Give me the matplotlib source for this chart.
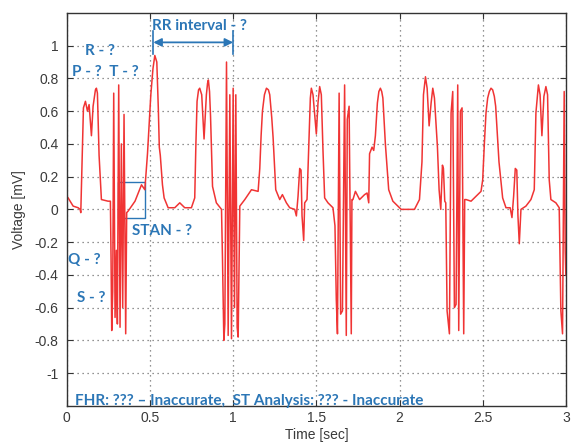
import numpy as np
import matplotlib
matplotlib.use("Agg")
import matplotlib.pyplot as plt
from matplotlib.patches import Rectangle

# breakpoints of the recorded trace, one block per beat cycle
beat1_t = [0.000, 0.008, 0.038, 0.068, 0.080, 0.084, 0.092, 0.100, 0.112, 0.124,
           0.134, 0.148, 0.158, 0.172, 0.178, 0.184, 0.194, 0.208, 0.248, 0.262]
beat1_v = [0.08, 0.07, 0.02, 0.01, 0.00, -0.02, 0.29, 0.62, 0.66, 0.60,
           0.64, 0.45, 0.63, 0.73, 0.74, 0.71, 0.33, 0.06, 0.05, 0.05]

qrs1_t = [0.266, 0.270, 0.276, 0.282, 0.290, 0.298, 0.304, 0.312, 0.320, 0.328,
          0.336, 0.344, 0.354, 0.360]
qrs1_v = [-0.30, -0.74, -0.50, 0.71, -0.66, -0.25, -0.70, 0.76, -0.72, 0.40,
          -0.60, 0.58, -0.76, -0.02]

beat2_t = [0.369, 0.410, 0.449, 0.469, 0.485, 0.497, 0.505, 0.518, 0.529, 0.541,
           0.550, 0.556, 0.562, 0.575, 0.585, 0.609, 0.649, 0.679, 0.709, 0.749,
           0.769, 0.776, 0.783, 0.792, 0.799, 0.811, 0.825, 0.839, 0.846, 0.851,
           0.858, 0.864, 0.876, 0.899, 0.930]
beat2_v = [-0.01, 0.05, 0.15, 0.12, 0.34, 0.56, 0.70, 0.86, 0.94, 0.90,
           0.62, 0.38, 0.33, 0.15, 0.07, 0.01, 0.01, 0.04, 0.01, 0.01,
           0.07, 0.40, 0.66, 0.73, 0.74, 0.70, 0.43, 0.70, 0.77, 0.79,
           0.72, 0.57, 0.14, 0.04, 0.00]

qrs2_t = [0.936, 0.944, 0.950, 0.960, 0.970, 0.980, 0.990, 1.000, 1.008, 1.016,
          1.024, 1.030, 1.040]
qrs2_v = [-0.31, -0.80, -0.70, 0.90, -0.77, 0.70, -0.79, 0.74, -0.60, 0.70,
          -0.72, -0.78, 0.02]

beat3_t = [1.070, 1.110, 1.150, 1.160, 1.168, 1.176, 1.188, 1.200, 1.212, 1.220,
           1.232, 1.240, 1.256, 1.280, 1.296, 1.320, 1.340, 1.370, 1.380, 1.390,
           1.400, 1.408, 1.414, 1.424, 1.430, 1.444, 1.456, 1.464, 1.470, 1.480,
           1.500, 1.510, 1.520, 1.530, 1.540, 1.550, 1.570, 1.600]
beat3_v = [0.06, 0.12, 0.11, 0.25, 0.45, 0.60, 0.70, 0.74, 0.73, 0.70,
           0.56, 0.44, 0.12, 0.06, 0.09, 0.04, 0.01, 0.00, -0.04, 0.08,
           0.25, 0.24, -0.04, -0.19, 0.04, 0.06, 0.43, 0.68, 0.74, 0.70,
           0.46, 0.65, 0.75, 0.70, 0.36, 0.07, 0.04, 0.01]

qrs3_t = [1.612, 1.620, 1.627, 1.637, 1.646, 1.657, 1.670, 1.680, 1.686, 1.697,
          1.710, 1.714]
qrs3_v = [-0.10, -0.55, -0.76, 0.71, -0.64, -0.62, 0.76, -0.77, 0.55, 0.63,
          -0.76, 0.06]

beat4_t = [1.720, 1.735, 1.760, 1.790, 1.805, 1.815, 1.820, 1.835, 1.845, 1.855,
           1.867, 1.876, 1.885, 1.893, 1.900, 1.915, 1.935, 1.960, 2.010, 2.090,
           2.120, 2.135, 2.144, 2.156, 2.166, 2.178, 2.190, 2.200, 2.210, 2.228,
           2.238, 2.248, 2.258, 2.264, 2.272, 2.278]
beat4_v = [0.06, 0.11, 0.06, 0.09, 0.10, 0.04, 0.34, 0.38, 0.36, 0.45,
           0.65, 0.72, 0.74, 0.72, 0.68, 0.40, 0.12, 0.05, 0.00, 0.00,
           0.06, 0.29, 0.70, 0.81, 0.74, 0.51, 0.65, 0.74, 0.68, 0.38,
           0.12, 0.00, 0.27, 0.25, 0.05, 0.04]

qrs4_t = [2.286, 2.300, 2.310, 2.320, 2.330, 2.340, 2.350, 2.356, 2.366, 2.376,
          2.386, 2.392]
qrs4_v = [-0.62, -0.76, 0.59, 0.72, -0.60, -0.58, 0.76, -0.74, 0.60, 0.62,
          -0.76, 0.06]

beat5_t = [2.400, 2.430, 2.460, 2.490, 2.500, 2.510, 2.520, 2.530, 2.540, 2.550,
           2.560, 2.570, 2.578, 2.598, 2.620, 2.640, 2.665, 2.676, 2.686, 2.696,
           2.705, 2.712, 2.720, 2.730, 2.760, 2.790, 2.810, 2.820, 2.835, 2.845,
           2.856, 2.868, 2.880, 2.890, 2.900, 2.910, 2.940, 2.960]
beat5_v = [0.06, 0.05, 0.08, 0.11, 0.18, 0.40, 0.59, 0.68, 0.72, 0.74,
           0.73, 0.69, 0.63, 0.29, 0.07, 0.01, 0.01, -0.05, 0.08, 0.25,
           0.24, -0.04, -0.21, 0.00, 0.02, 0.06, 0.12, 0.59, 0.76, 0.70,
           0.45, 0.69, 0.75, 0.70, 0.18, 0.06, 0.04, 0.01]

qrs5_t = [2.970, 2.980, 2.990, 2.996, 3.000]
qrs5_v = [-0.62, -0.76, 0.72, -0.25, -0.40]

x_ticks = [0, 0.5, 1, 1.5, 2, 2.5, 3]
y_ticks = [-1, -0.8, -0.6, -0.4, -0.2, 0, 0.2, 0.4, 0.6, 0.8, 1]

time = np.concatenate([beat1_t, qrs1_t, beat2_t, qrs2_t, beat3_t, qrs3_t,
                       beat4_t, qrs4_t, beat5_t, qrs5_t])
volt = np.concatenate([beat1_v, qrs1_v, beat2_v, qrs2_v, beat3_v, qrs3_v,
                       beat4_v, qrs4_v, beat5_v, qrs5_v])

blue = '#2b76b6'
tick_grey = '#3a3a3a'

fig = plt.figure(figsize=(5.71, 4.45), dpi=100)
ax = fig.add_axes([0.117, 0.088, 0.874, 0.883])

ax.plot(time, volt, color='#f03434', lw=1.1)

ax.set_xlim(0, 3)
ax.set_ylim(-1.2, 1.2)
ax.set_xticks(x_ticks)
ax.set_yticks(y_ticks)
ax.set_xticklabels(['%g' % v for v in x_ticks])
ax.set_yticklabels(['%g' % v for v in y_ticks])
ax.tick_params(direction='in', length=4, top=True, right=True,
               labelsize=10, labelcolor=tick_grey, color='#333333', pad=4)
ax.tick_params(axis='y', pad=6)
for lab in ax.get_xticklabels() + ax.get_yticklabels():
    lab.set_family('Liberation Sans')
for s in ax.spines.values():
    s.set_color('#333333')
    s.set_linewidth(1.0)
ax.grid(True, linestyle=(0, (1, 3)), color='#707070', lw=0.9)

ax.set_xlabel('Time [sec]', fontsize=10, color=tick_grey, family='Liberation Sans', labelpad=2)
ax.set_ylabel('Voltage [mV]', fontsize=10, color=tick_grey, family='Liberation Sans', labelpad=6)

# annotations
txt = dict(color=blue, fontsize=11, family='Lato', fontweight='bold', va='center')
ax.text(0.11, 0.97, 'R - ?', **txt)
ax.text(0.03, 0.84, 'P - ?  T - ?', **txt)
ax.text(0.51, 1.12, 'RR interval - ?', **txt)
ax.text(0.39, -0.13, 'STAN - ?', **txt)
ax.text(0.01, -0.31, 'Q - ?', **txt)
ax.text(0.06, -0.54, 'S - ?', **txt)
ax.text(0.05, -1.17, 'FHR: ??? \u2013 Inaccurate,  ST Analysis: ??? - Inaccurate', **txt)

rr_start, rr_end, rr_level = 0.52, 1.0, 1.02
ax.annotate('', xy=(rr_end, rr_level), xytext=(rr_start, rr_level),
            arrowprops=dict(arrowstyle='<|-|>', color=blue, lw=1.3,
                            mutation_scale=12, shrinkA=0, shrinkB=0))
for xb in (rr_start, rr_end):
    ax.plot([xb, xb], [0.95, 1.09], color=blue, lw=1.2)

ax.add_patch(Rectangle((0.306, -0.055), 0.163, 0.221, fill=False,
                       edgecolor=blue, lw=1.0))

fig.savefig('out.png', dpi=100)
